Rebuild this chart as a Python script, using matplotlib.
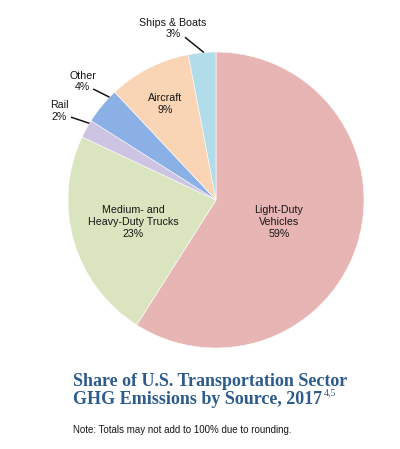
import numpy as np
import matplotlib
matplotlib.use('Agg')
import matplotlib.pyplot as plt

# shares in %, clockwise from the top
sources = ['Light-Duty\nVehicles', 'Medium- and\nHeavy-Duty Trucks', 'Rail', 'Other', 'Aircraft', 'Ships & Boats']
shares = [59, 23, 2, 4, 9, 3]
colors = ['#E8B5B5', '#DAE5C0', '#CDC3E3', '#8BB0E6', '#F9D4B5', '#B0DDE9']

sans = ['Liberation Sans', 'DejaVu Sans']
serif = ['Liberation Serif', 'DejaVu Serif']
ink = '#161616'

fig = plt.figure(figsize=(4.0, 4.49), dpi=100)
ax = fig.add_axes([68 / 400, 101 / 449, 296 / 400, 296 / 449])

wedges, _ = ax.pie(shares, colors=colors, startangle=90, counterclock=False,
                   radius=1.0, wedgeprops=dict(linewidth=0.4, edgecolor='white'))
ax.set_xlim(-1, 1)
ax.set_ylim(-1, 1)
ax.set_aspect('equal')
ax.axis('off')

# inside labels: radial fraction, angle tweak (deg)
inside = {0: (0.45, -3), 1: (0.58, -1.3), 4: (0.735, 1)}
# outside labels: text centre, leader start, angle tweak of leader end
outside = {2: ((-1.06, 0.60), (-0.98, 0.56), -2.4),
           3: ((-0.90, 0.80), (-0.83, 0.75), -4.4),
           5: ((-0.29, 1.16), (-0.21, 1.10), -0.7)}

for i, w in enumerate(wedges):
    mid = (w.theta1 + w.theta2) / 2
    txt = f'{sources[i]}\n{shares[i]}%'
    if i in inside:
        r, dt = inside[i]
        a = np.deg2rad(mid + dt)
        ax.text(r * np.cos(a), r * np.sin(a), txt, ha='center', va='center',
                fontsize=7.7, family=sans, color=ink, linespacing=1.25)
    else:
        pos, start, dt = outside[i]
        a = np.deg2rad(mid + dt)
        ax.text(pos[0], pos[1], txt, ha='center', va='center', fontsize=7.7,
                family=sans, color=ink, linespacing=1.2)
        ax.plot([start[0], np.cos(a)], [start[1], np.sin(a)], color=ink,
                lw=1.1, clip_on=False, solid_capstyle='butt')

title_color = '#2D5B8C'
fig.text(73 / 400, 1 - 381 / 449, 'Share of U.S. Transportation Sector',
         ha='left', va='center', fontsize=13, family=serif, color=title_color,
         weight='bold')
t2 = fig.text(73 / 400, 1 - 400 / 449, 'GHG Emissions by Source, 2017',
              ha='left', va='center', fontsize=13, family=serif, color=title_color,
              weight='bold')
fig.canvas.draw()
ax.annotate('4,5', xy=(1.0, 1.0), xycoords=t2, xytext=(1, 2),
            textcoords='offset points', ha='left', va='top', fontsize=7,
            family=serif, color=title_color)

fig.text(73 / 400, 1 - 430 / 449,
         'Note: Totals may not add to 100% due to rounding.',
         ha='left', va='center', fontsize=7.0, family=sans, color=ink)

fig.savefig('out.png', dpi=100, facecolor='white')
